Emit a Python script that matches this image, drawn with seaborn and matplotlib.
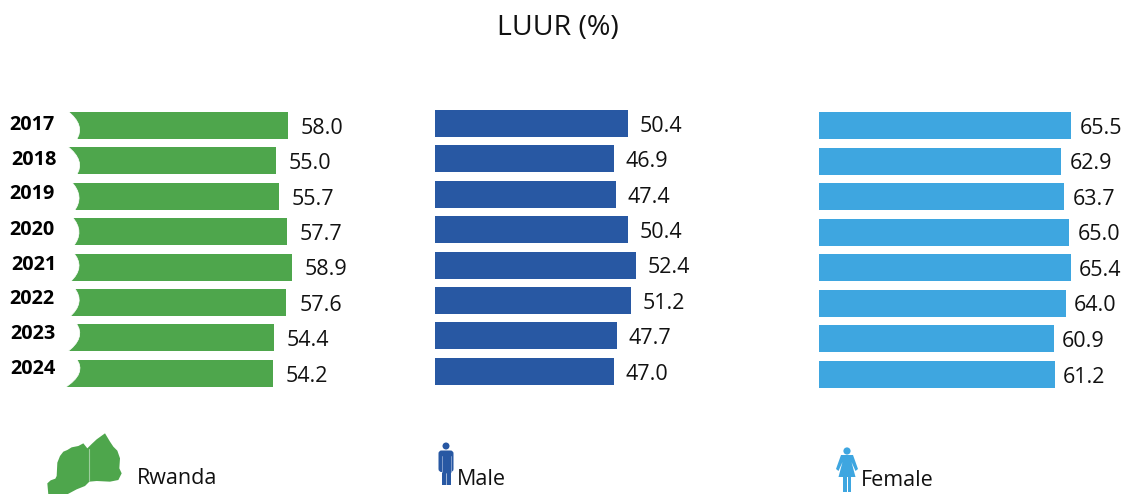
import matplotlib
matplotlib.use("Agg")
import matplotlib.pyplot as plt
from matplotlib.patches import Polygon, Circle, Rectangle, FancyBboxPatch, PathPatch
from matplotlib.path import Path
import seaborn as sns
import pandas as pd

years = ["2017", "2018", "2019", "2020", "2021", "2022", "2023", "2024"]
rwanda = [58.0, 55.0, 55.7, 57.7, 58.9, 57.6, 54.4, 54.2]
male = [50.4, 46.9, 47.4, 50.4, 52.4, 51.2, 47.7, 47.0]
female = [65.5, 62.9, 63.7, 65.0, 65.4, 64.0, 60.9, 61.2]
title = "LUUR (%)"
series_names = ["Rwanda", "Male", "Female"]
colors = ["#4EA64C", "#2858A3", "#3EA6E0"]

W, H = 1129, 494
sns.set_theme(style="white")
plt.rcParams["font.family"] = ["Open Sans", "DejaVu Sans"]
fig = plt.figure(figsize=(W / 100, H / 100), dpi=100)
fig.patch.set_facecolor("white")


def panel(left_px, right_px, top_px, bot_px, x0, x1, vals, color, pad_pt):
    ax = fig.add_axes([left_px / W, 1 - bot_px / H, (right_px - left_px) / W, (bot_px - top_px) / H])
    df = pd.DataFrame({"year": years, "v": vals})
    sns.barplot(data=df, y="year", x="v", color=color, width=0.763, saturation=1, linewidth=0, edgecolor="none", ax=ax)
    ax.set_xlim(x0, x1)
    ax.set_ylim(7.5, -0.5)
    ax.axis("off")
    labels = ax.bar_label(ax.containers[0], fmt="%.1f", padding=pad_pt, fontsize=15.5, color="#111111", clip_on=False)
    for t in labels:
        t.xyann = (pad_pt, -2.0)
    return ax


panel(56, 56 + 4.0 * 70, 107.8, 391, 0, 70, rwanda, colors[0], 9.2)
panel(435, 426 + 4.0 * 70, 105.8, 389, 2.25, 70, male, colors[1], 8.6)
panel(818.5, 818.5 + 3.86 * 70, 107.8, 392, 0, 70, female, colors[2], 5.8)

ov = fig.add_axes([0, 0, 1, 1], facecolor="none")
ov.set_xlim(0, W)
ov.set_ylim(H, 0)
ov.axis("off")

# white notch at the left end of each green bar
notch_top = [67, 67, 71, 72, 73, 74, 76, 76]
notch_bot = [76, 76, 74, 73, 70, 69, 66, 64]
for i, (tl, bl) in enumerate(zip(notch_top, notch_bot)):
    t = 110.5 + 35.4 * i
    b = t + 30
    m = (t + b) / 2
    verts = [(50, t), (tl, t), (2 * 79 - (tl + bl) / 2, m), (bl, b), (50, b), (50, t)]
    codes = [Path.MOVETO, Path.LINETO, Path.CURVE3, Path.CURVE3, Path.LINETO, Path.CLOSEPOLY]
    ov.add_patch(PathPatch(Path(verts, codes), fc="white", ec="white", lw=0.5))

year_x = [9, 11, 9, 9, 11, 9, 10, 10]
year_y = [125, 160, 194, 230, 265, 299, 334, 369]
for y, xp, yp in zip(years, year_x, year_y):
    ov.text(xp, yp, y, fontsize=14.3, fontweight="bold", color="black", va="center", ha="left")

ov.text(558, 28, title, fontsize=20.5, color="#111111", ha="center", va="center")

# Rwanda map
z = [(55, 224), (52, 190), (62, 181), (76, 176), (80, 168), (82, 128), (90, 108), (100, 95), (112, 90), (125, 82),
     (145, 78), (160, 70), (172, 85), (185, 72), (200, 58), (225, 40), (240, 65), (250, 80), (262, 92), (270, 115),
     (268, 145), (275, 160), (265, 180), (240, 185), (200, 183), (178, 185), (165, 198), (140, 208), (110, 224)]
ov.add_patch(Polygon([(30 + a / 3, 420 + b / 3) for a, b in z], closed=True, fc=colors[0], ec="none"))
ov.plot([88.5, 88.5], [449, 481], color="#9cce9b", lw=0.8)

# Male icon
c = colors[1]
ov.add_patch(Circle((446, 446), 3.5, fc=c, ec="none"))
ov.add_patch(FancyBboxPatch((438.5, 450.5), 15, 21.5, boxstyle="round,pad=0,rounding_size=3", fc=c, ec="none"))
ov.add_patch(Rectangle((441.8, 462), 8.8, 22.5, fc=c, ec="none"))
ov.plot([441.5, 441.5], [456, 472], color="#8fa8d2", lw=0.6)
ov.plot([450.8, 450.8], [456, 472], color="#8fa8d2", lw=0.6)
ov.plot([446.2, 446.2], [473, 485], color="white", lw=0.4)

# Female icon
c = colors[2]
ov.add_patch(Circle((847, 451), 3.6, fc=c, ec="none"))
ov.add_patch(Polygon([(841, 455), (853, 455), (858, 469), (855.5, 471), (851.5, 462), (855.5, 477), (838.5, 477),
                      (842.5, 462), (838.5, 471), (836, 469)], closed=True, fc=c, ec="none"))
ov.add_patch(Rectangle((843, 476), 3.7, 16, fc=c, ec="none"))
ov.add_patch(Rectangle((847.5, 476), 3.7, 16, fc=c, ec="none"))

ov.text(137, 478, series_names[0], fontsize=15.5, color="#111111", va="center")
ov.text(457, 479, series_names[1], fontsize=15.5, color="#111111", va="center")
ov.text(861, 480, series_names[2], fontsize=15.5, color="#111111", va="center")

fig.savefig("out.png", dpi=100)
